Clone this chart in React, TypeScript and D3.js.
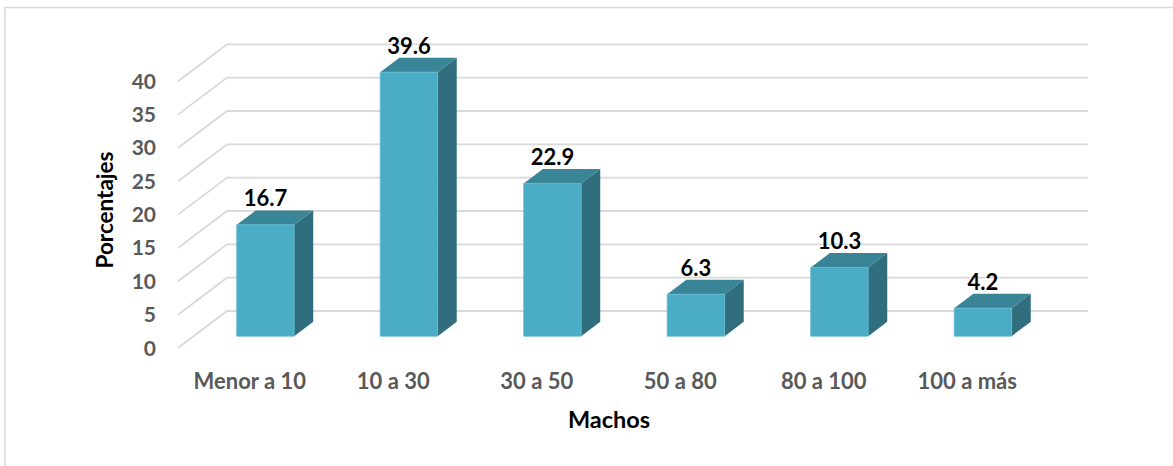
import React from "react";
import * as d3 from "d3";

const categories: string[] = ["Menor a 10", "10 a 30", "30 a 50", "50 a 80", "80 a 100", "100 a más"];
const values: number[] = [16.7, 39.6, 22.9, 6.3, 10.3, 4.2];
const yTicks: number[] = [0, 5, 10, 15, 20, 25, 30, 35, 40];
const yAxisTitle = "Porcentajes";
const xAxisTitle = "Machos";

const W = 1173;
const H = 466;
const ORIGIN_X = 178;
const ORIGIN_Y = 348;
const PLOT_W = 861;
const PLOT_H = 266.7;
const DEPTH_X = 49;
const DEPTH_Y = -37;
const BAR_D0 = 0.32;
const BAR_D1 = 0.71;

const FONT = "Lato, 'Open Sans', sans-serif";

export default function App() {
  const x = d3.scaleBand<string>().domain(categories).range([0, PLOT_W]).paddingInner(0.6).paddingOuter(0.3);
  const y = d3.scaleLinear().domain([0, 40]).range([0, PLOT_H]);

  const pt = (px: number, v: number, d: number): [number, number] => [
    ORIGIN_X + px + d * DEPTH_X,
    ORIGIN_Y - y(v) + d * DEPTH_Y,
  ];
  const poly = (pts: [number, number][]) => pts.map((p) => p.join(",")).join(" ");

  return (
    <svg
      width={W}
      height={H}
      style={{ position: "fixed", left: 0, top: 0, background: "#fff" }}
      fontFamily={FONT}
    >
      <rect x={0} y={0} width={W} height={H} fill="#fff" />
      <rect x={5} y={7.5} width={W + 50} height={H + 50} fill="#fff" stroke="#d9d9d9" strokeWidth={1.5} />

      {/* gridlines */}
      {yTicks.map((t) => {
        const a = pt(0, t, 0);
        const b = pt(0, t, 1);
        const c = pt(PLOT_W, t, 1);
        return (
          <polyline
            key={"g" + t}
            points={poly([a, b, c])}
            fill="none"
            stroke="#d9d9d9"
            strokeWidth={1.8}
          />
        );
      })}

      {/* tick labels */}
      {yTicks.map((t) => {
        const a = pt(0, t, 0);
        return (
          <text
            key={"t" + t}
            x={a[0] - 22}
            y={a[1] + 7.5}
            textAnchor="end"
            fontSize={21}
            fontWeight={700}
            fill="#595959"
          >
            {t}
          </text>
        );
      })}

      {/* bars */}
      {categories.map((c, i) => {
        const x0 = x(c)!;
        const x1 = x0 + x.bandwidth();
        const v = values[i];
        const f0 = pt(x0, 0, BAR_D0);
        const f1 = pt(x1, 0, BAR_D0);
        const f2 = pt(x1, v, BAR_D0);
        const f3 = pt(x0, v, BAR_D0);
        const b1 = pt(x1, 0, BAR_D1);
        const b2 = pt(x1, v, BAR_D1);
        const b3 = pt(x0, v, BAR_D1);
        const cx = (f0[0] + f1[0]) / 2;
        return (
          <g key={"b" + i}>
            <polygon points={poly([f1, b1, b2, f2])} fill="#316E7D" />
            <polygon points={poly([f3, f2, b2, b3])} fill="#3A8497" />
            <polygon points={poly([f0, f1, f2, f3])} fill="#4BACC6" stroke="#5BB8D0" strokeWidth={0.8} />
            <text
              x={cx}
              y={b3[1] - 4}
              textAnchor="middle"
              fontSize={22}
              fontWeight={700}
              fill="#000"
            >
              {v.toFixed(1)}
            </text>
          </g>
        );
      })}

      {/* category labels */}
      {categories.map((c) => {
        const p = pt(x(c)! + x.bandwidth() / 2, 0, 0);
        return (
          <text
            key={"c" + c}
            x={p[0]}
            y={389}
            textAnchor="middle"
            fontSize={22}
            fontWeight={700}
            fill="#595959"
          >
            {c}
          </text>
        );
      })}

      {/* axis titles */}
      <text
        x={609}
        y={428}
        textAnchor="middle"
        fontSize={23.5}
        fontWeight={700}
        fill="#000"
      >
        {xAxisTitle}
      </text>
      <text
        transform={`translate(113,210) rotate(-90)`}
        textAnchor="middle"
        fontSize={22.5}
        fontWeight={700}
        fill="#000"
      >
        {yAxisTitle}
      </text>
    </svg>
  );
}
